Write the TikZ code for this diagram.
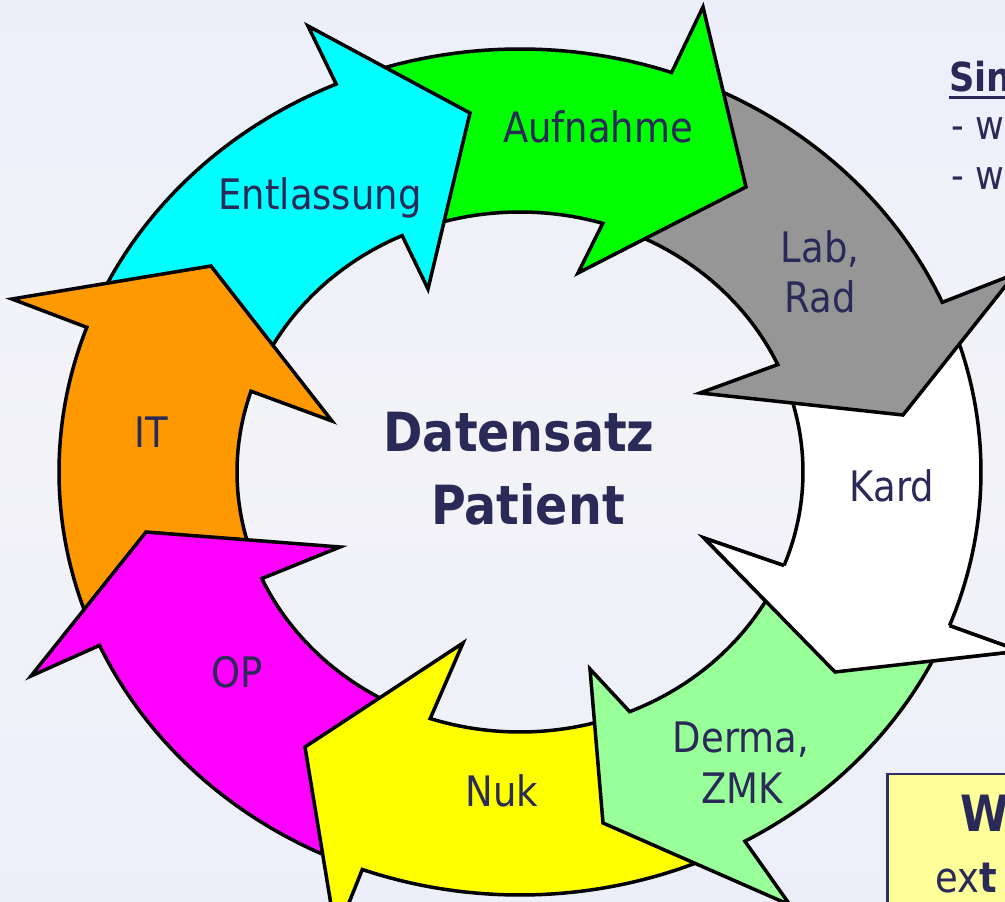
\documentclass[tikz,border=0pt]{standalone}
\usepackage{fontspec}
\newfontfamily\tah[FakeStretch=0.88]{DejaVu Sans}
\usetikzlibrary{calc}
\definecolor{navy}{RGB}{42,42,88}
\definecolor{bgtop}{RGB}{236,239,250}
\definecolor{bgmid}{RGB}{243,243,247}
\definecolor{bgbot}{RGB}{236,239,250}
\definecolor{arrgreen}{RGB}{0,255,0}
\definecolor{arrgray}{RGB}{150,150,150}
\definecolor{arrltgreen}{RGB}{153,255,153}
\definecolor{arryellow}{RGB}{255,255,0}
\definecolor{arrmagenta}{RGB}{255,0,255}
\definecolor{arrorange}{RGB}{255,153,0}
\definecolor{arrcyan}{RGB}{0,255,255}
\definecolor{boxfill}{RGB}{255,255,153}
\definecolor{boxline}{RGB}{48,48,96}
\newcommand{\lblfont}{\tah\fontsize{42}{50}\selectfont}
\newcommand{\circarrow}[9]{%
  \filldraw[arr,fill=#1] ($(C)+(#2:461pt and 423pt)$)
    arc[start angle=#2,end angle=#4,x radius=461pt,y radius=423pt]
    -- #5 -- #6 -- #7 -- ($(C)+(#8:283pt and 260pt)$)
    arc[start angle=#8,end angle=#9,x radius=283pt,y radius=260pt]
    -- #3 -- cycle;}
\begin{document}
\begin{tikzpicture}[x=1pt,y=1pt,
  arr/.style={draw=black,line width=3.5pt,line join=miter},
  lbl/.style={text=navy,inner sep=0pt,anchor=base,font=\lblfont},
  bigl/.style={text=navy,inner sep=0pt,anchor=base,font=\tah\bfseries\fontsize{54}{60}\selectfont},
  sidetxt/.style={text=navy,inner sep=0pt,anchor=base west,font=\tah\fontsize{40}{46}\selectfont}]
\useasboundingbox (0,0) rectangle (1005,902);
\clip (0,0) rectangle (1005,902);
\shade[top color=bgtop,bottom color=bgbot,middle color=bgmid] (0,0) rectangle (1005,902);
\coordinate (C) at (520,430);
% arrows (clockwise chain)
\circarrow{white}{20.65}{(893.9,503.3)}{-21.3}{(1020,251)}{(835,230)}{(704,364)}{-21.1}{21.4}
\circarrow{arrgray}{67.8}{(724.9,724.4)}{23.65}{(1015,628)}{(903,487)}{(700,509)}{24.4}{70}
\circarrow{arrgreen}{110.5}{(449.6,780.1)}{70.8}{(703,895)}{(746,715)}{(578,629)}{73}{111.6}
\circarrow{arrcyan}{157}{(203.2,617.2)}{113.5}{(308,876)}{(470,789)}{(428,613)}{114.6}{158.9}
\circarrow{arrorange}{201.2}{(153.9,354.1)}{160}{(12,603)}{(211,636)}{(332,481)}{161.9}{201.2}
\circarrow{arrmagenta}{-113}{(323.9,146.6)}{-155.8}{(31,226)}{(146,370)}{(340,355)}{-155.8}{-111.5}
\circarrow{arryellow}{-63.8}{(620.4,86.2)}{-110}{(336,-33)}{(305,155)}{(463,259)}{-108.5}{-70.2}
\circarrow{arrltgreen}{-24.3}{(840.4,245.5)}{-60.8}{(790,-3)}{(603,79)}{(590,233)}{-67.2}{-24.1}
% white head on top again
\fill[white] ($(C)+(-21.3:461pt and 423pt)$) -- (1020,251) -- (835,230) -- (704,364) -- ($(C)+(-21.1:283pt and 260pt)$) -- cycle;
\draw[arr] ($(C)+(-21.3:461pt and 423pt)$) -- (1020,251) -- (835,230) -- (704,364) -- ($(C)+(-21.1:283pt and 260pt)$);
% labels
\node[lbl] (aufn) at (598,759) {Aufnahme};
\node[lbl] (entl) at (320,692) {Entlassung};
\node[lbl] (lab) at (820,639) {Lab,};
\node[lbl] (rad) at (820,589) {Rad};
\node[lbl] (kard) at (892,400) {Kard};
\node[lbl] (derma) at (741,149) {Derma,};
\node[lbl] (zmk) at (742,98) {ZMK};
\node[lbl] (nuk) at (502,95) {Nuk};
\node[lbl] (op) at (237,214) {OP};
\node[lbl] (it) at (151,454) {IT};
\node[bigl] (dat) at (519,450) {Datensatz};
\node[bigl] (pat) at (528,377) {Patient};
% top right text
\node[text=navy,inner sep=0pt,anchor=base west,font=\tah\bfseries\fontsize{40}{46}\selectfont] (sin) at (949,810) {Sin};
\draw[navy,line width=3pt] ($(sin.base west)+(0,-6)$) -- ($(sin.base east)+(10,-6)$);
\node[sidetxt] (w1) at (951,762) {-\hspace{12pt}w};
\node[sidetxt] (w2) at (951,712) {-\hspace{12pt}w};
% yellow box
\node[draw=boxline,line width=2.5pt,fill=boxfill,anchor=north west,minimum width=160pt,minimum height=170pt,inner sep=0pt] (wbox) at (886,129) {};
\node[text=navy,inner sep=0pt,anchor=base west,font=\tah\bfseries\fontsize{50}{56}\selectfont] (wt) at (960,70) {W};
\node[text=navy,inner sep=0pt,anchor=base west,font=\tah\fontsize{42}{48}\selectfont] (ext) at (935,9) {ex\bfseries t};
\end{tikzpicture}
\end{document}
